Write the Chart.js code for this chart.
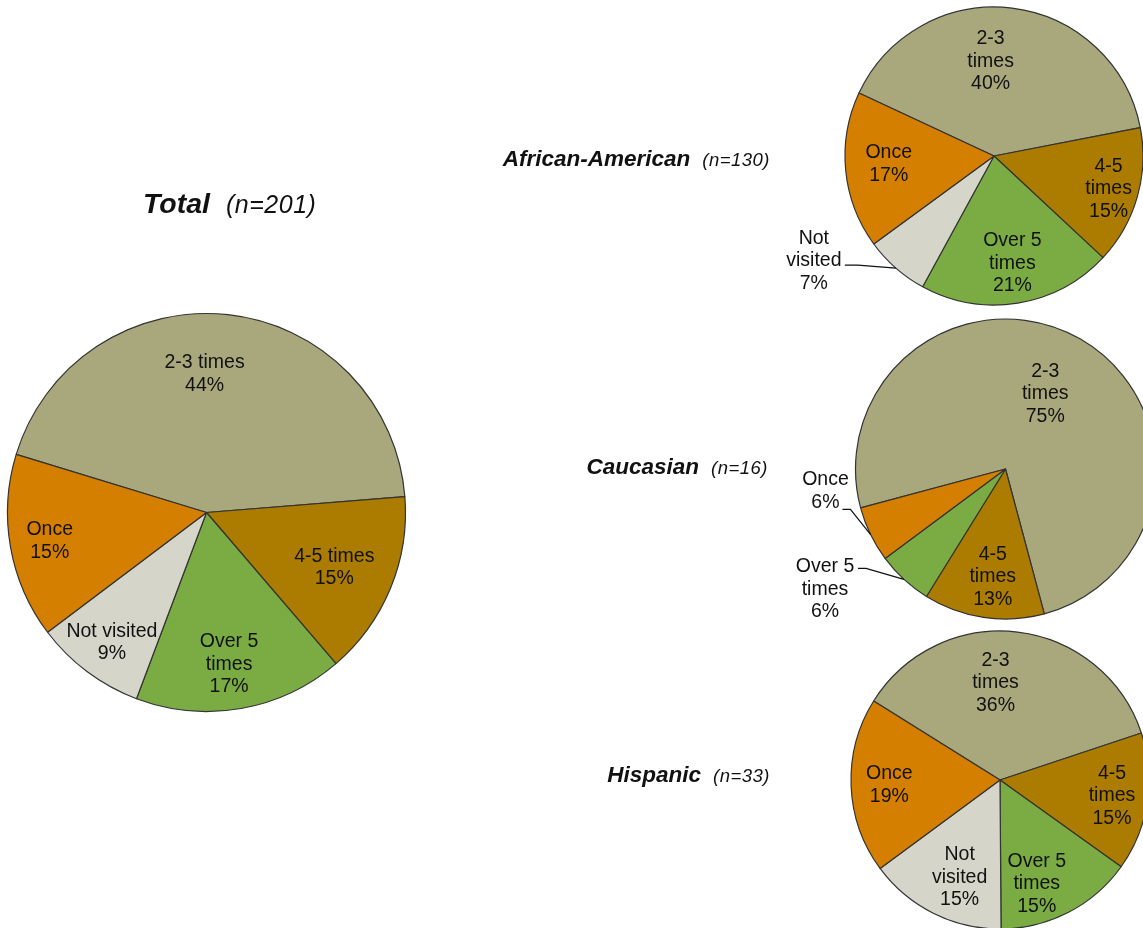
<!DOCTYPE html>
<html>
<head>
<meta charset="utf-8">
<script src="https://cdn.jsdelivr.net/npm/chart.js@4/dist/chart.umd.min.js"></script>
<style>
  html, body { margin: 0; padding: 0; background: #fff; }
  #stage { position: relative; width: 1143px; height: 928px; overflow: hidden; }
  #stage canvas { position: absolute; left: 0; top: 0; }
  .title { position: absolute; white-space: nowrap; line-height: 1; color: #111;
           font-family: "Liberation Sans", Arial, sans-serif; font-style: italic; }
  .title b { font-weight: bold; }
  .title span { font-weight: normal; letter-spacing: 0.5px; }
</style>
</head>
<body>
<div id="stage">
  <canvas id="total" width="1143" height="928"></canvas>
  <canvas id="african" width="1143" height="928"></canvas>
  <canvas id="caucasian" width="1143" height="928"></canvas>
  <canvas id="hispanic" width="1143" height="928"></canvas>

  <div class="title" style="left:143px; top:189px; font-size:28.5px;"><b>Total</b><span style="font-size:25px; margin-left:16px;">(n=201)</span></div>
  <div class="title" style="right:373px; top:148px; font-size:22.5px;"><b>African-American</b><span style="font-size:18.5px; margin-left:12px;">(n=130)</span></div>
  <div class="title" style="right:375px; top:456px; font-size:22.5px;"><b>Caucasian</b><span style="font-size:18.5px; margin-left:12px;">(n=16)</span></div>
  <div class="title" style="right:373px; top:764px; font-size:22.5px;"><b>Hispanic</b><span style="font-size:18.5px; margin-left:12px;">(n=33)</span></div>
</div>

<script>
// Visit-frequency shares (percent) by group
const categories = ['2-3 times', '4-5 times', 'Over 5 times', 'Not visited', 'Once'];
const totalValues = [44, 15, 17, 9, 15];
const africanAmericanValues = [40, 15, 21, 7, 17];
const caucasianCategories = ['2-3 times', '4-5 times', 'Over 5 times', 'Once'];
const caucasianValues = [75, 13, 6, 6];
const hispanicValues = [36, 15, 15, 15, 19];

const sliceColors = {
  '2-3 times': '#A9A87D',
  '4-5 times': '#AB7C00',
  'Over 5 times': '#7AAC43',
  'Not visited': '#D5D5C9',
  'Once': '#D57F00'
};

const FONT = '"Liberation Sans", Arial, sans-serif';
const W = 1143, H = 928;

// Break a category name into lines no wider than maxWidth
function wrapText(ctx, text, maxWidth) {
  const words = text.split(' ');
  const lines = [];
  let line = '';
  words.forEach(w => {
    const test = line ? line + ' ' + w : w;
    if (line && ctx.measureText(test).width > maxWidth) {
      lines.push(line);
      line = w;
    } else {
      line = test;
    }
  });
  if (line) lines.push(line);
  return lines;
}

// Draws "category / value%" inside each slice, or outside with a leader line
const sliceLabels = {
  id: 'sliceLabels',
  afterDatasetsDraw(chart, args, opts) {
    const ctx = chart.ctx;
    const meta = chart.getDatasetMeta(0);
    const values = chart.data.datasets[0].data;
    ctx.save();
    ctx.font = opts.size + 'px ' + FONT;
    ctx.fillStyle = '#111';
    ctx.strokeStyle = '#111';
    ctx.lineWidth = 1.2;
    ctx.textAlign = 'center';
    ctx.textBaseline = 'middle';
    meta.data.forEach((arc, i) => {
      const p = arc.getProps(['x', 'y', 'startAngle', 'endAngle', 'outerRadius'], true);
      const mid = (p.startAngle + p.endAngle) / 2;
      const place = opts.place[i];
      const lines = wrapText(ctx, chart.data.labels[i], opts.wrap).concat(values[i] + '%');
      let tx, ty;
      if (place.lead) {
        const ex = p.x + Math.cos(mid) * p.outerRadius;
        const ey = p.y + Math.sin(mid) * p.outerRadius;
        ctx.beginPath();
        ctx.moveTo(ex, ey);
        place.lead.forEach(([dx, dy]) => ctx.lineTo(ex + dx, ey + dy));
        ctx.stroke();
        tx = ex + place.dx;
        ty = ey + place.dy;
      } else {
        const r = p.outerRadius * place.r;
        tx = p.x + Math.cos(mid) * r + (place.dx || 0);
        ty = p.y + Math.sin(mid) * r + (place.dy || 0);
      }
      const lh = opts.lineHeight;
      lines.forEach((t, k) => ctx.fillText(t, tx, ty + (k - (lines.length - 1) / 2) * lh));
    });
    ctx.restore();
  }
};

// Center a pie at (cx, cy) on a full-page canvas by padding the chart area
function padFor(cx, cy) {
  return {
    left: Math.max(0, 2 * cx - W),
    right: Math.max(0, W - 2 * cx),
    top: Math.max(0, 2 * cy - H),
    bottom: Math.max(0, H - 2 * cy)
  };
}

function makePie(id, labels, values, geom, labelOpts) {
  return new Chart(document.getElementById(id), {
    type: 'pie',
    data: {
      labels: labels,
      datasets: [{
        data: values,
        backgroundColor: labels.map(l => sliceColors[l]),
        borderColor: '#333333',
        borderWidth: 1.2,
        clip: false
      }]
    },
    options: {
      responsive: false,
      animation: false,
      events: [],
      rotation: geom.rotation,
      radius: geom.r,
      layout: { padding: padFor(geom.cx, geom.cy) },
      plugins: {
        legend: { display: false },
        tooltip: { enabled: false },
        sliceLabels: Object.assign({ size: 19.5, lineHeight: 22.5 }, labelOpts)
      }
    },
    plugins: [sliceLabels]
  });
}

makePie('total', categories, totalValues,
  { cx: 206.5, cy: 512.5, r: 199, rotation: -73 },
  { wrap: 98, place: [
    { r: 0.70, dx: -17, dy: 0 },
    { r: 0.70, dx: -1, dy: 2 },
    { r: 0.77, dx: -4, dy: 1 },
    { r: 0.81, dx: 2, dy: 1 },
    { r: 0.80, dx: 0, dy: 1 }
  ] });

makePie('african', categories, africanAmericanValues,
  { cx: 994, cy: 156, r: 149, rotation: -65 },
  { wrap: 64, place: [
    { r: 0.64, dx: -15, dy: 0 },
    { r: 0.80, dx: 0, dy: 0 },
    { r: 0.73, dx: 1, dy: 0 },
    { lead: [[-38, -3], [-51, -3]], dx: -82, dy: -7 },
    { r: 0.71, dx: 0, dy: -2 }
  ] });

makePie('caucasian', caucasianCategories, caucasianValues,
  { cx: 1005.5, cy: 469, r: 150, rotation: -105 },
  { wrap: 64, place: [
    { r: 0.57, dx: -3, dy: -1 },
    { r: 0.72, dx: 3, dy: 1 },
    { lead: [[-38, -11], [-46, -11]], dx: -79, dy: 10 },
    { lead: [[-20, -25], [-28, -25]], dx: -45, dy: -43 }
  ] });

makePie('hispanic', categories, hispanicValues,
  { cx: 1000, cy: 780, r: 149, rotation: -58 },
  { wrap: 64, place: [
    { r: 0.65, dx: -16, dy: -1 },
    { r: 0.76, dx: 0, dy: -1 },
    { r: 0.74, dx: -14, dy: 6 },
    { r: 0.71, dx: 7, dy: 3 },
    { r: 0.75, dx: 1, dy: 1 }
  ] });
</script>
</body>
</html>
